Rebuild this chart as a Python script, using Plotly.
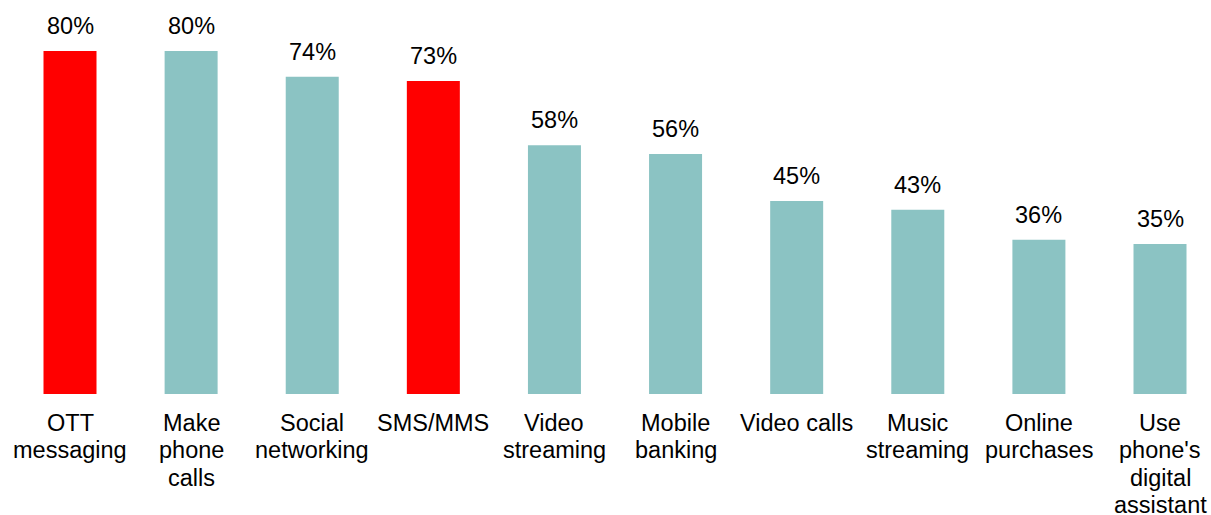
import plotly.graph_objects as go

categories = ["OTT\nmessaging", "Make\nphone\ncalls", "Social\nnetworking", "SMS/MMS",
              "Video\nstreaming", "Mobile\nbanking", "Video calls", "Music\nstreaming",
              "Online\npurchases", "Use\nphone's\ndigital\nassistant"]
values = [80, 80, 74, 73, 58, 56, 45, 43, 36, 35]
highlight = [True, False, False, True, False, False, False, False, False, False]

RED = "#FF0000"
TEAL = "#8BC3C3"
colors = [RED if h else TEAL for h in highlight]
FONT = "Liberation Sans, Arial, sans-serif"
FS = 23.5

fig = go.Figure(go.Bar(
    x=list(range(len(categories))), y=values,
    marker=dict(color=colors, line=dict(width=0)),
    width=0.4376, hoverinfo="skip",
))

for i, v in enumerate(values):
    fig.add_annotation(x=i, y=v, text=f"{v}%", showarrow=False, xref="x", yref="y",
                       yanchor="bottom", yshift=10,
                       font=dict(family=FONT, size=FS, color="#000000"))

for i, cat in enumerate(categories):
    for j, line in enumerate(cat.split("\n")):
        fig.add_annotation(x=i, y=0, text=line, showarrow=False, xref="x", yref="y",
                           yanchor="middle", yshift=-(28.5 + 27.5 * j),
                           font=dict(family=FONT, size=FS, color="#000000"))

fig.update_layout(
    width=1211, height=515,
    margin=dict(l=0, r=0, t=0, b=121),
    plot_bgcolor="white", paper_bgcolor="white",
    showlegend=False,
    font=dict(family=FONT, size=FS, color="#000000"),
    xaxis=dict(range=[-0.578, 9.421], showticklabels=False,
               showgrid=False, zeroline=False, showline=False, ticks=""),
    yaxis=dict(range=[0, 91.9], visible=False, showgrid=False, zeroline=False),
)

fig.write_html("out.html", config={"displayModeBar": False},
               post_script="document.body.style.margin='0';")
